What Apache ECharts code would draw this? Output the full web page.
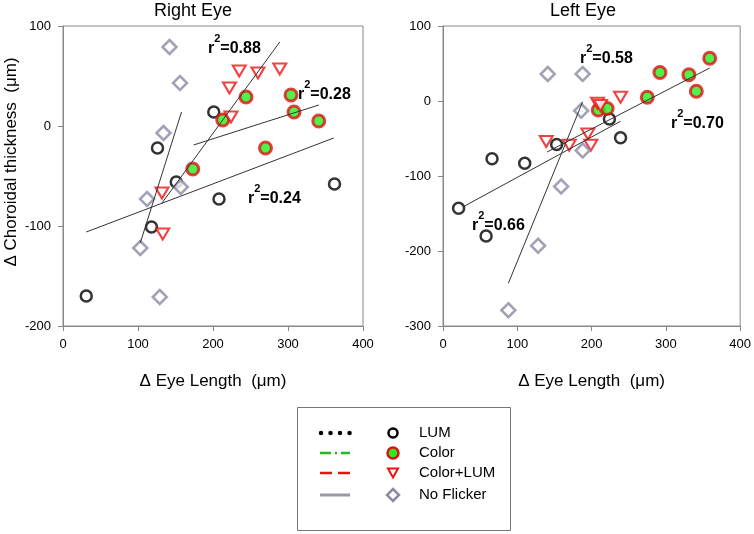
<!DOCTYPE html>
<html><head><meta charset="utf-8">
<script src="https://cdn.jsdelivr.net/npm/echarts@6/dist/echarts.min.js"></script>
<style>html,body{margin:0;padding:0;background:#fff}#c{width:754px;height:534px}</style>
</head><body><div id="c"></div>
<script>
// ---- Right Eye data: [Δ eye length (µm), Δ choroidal thickness (µm)]
const rightLUM = [[31,-170],[126,-22],[118,-101],[151,-56],[201,14],[208,-73],[362,-58]];
const rightColor = [[173,-43],[213,6],[244,29],[270,-22],[304,31],[308,14],[341,5]];
const rightColorLUM = [[132,-67],[133,-108],[222,38],[235,55],[224,9],[260,53],[289,57]];
const rightNoFlicker = [[142,79],[156,43],[134,-7],[112,-73],[157,-61],[103,-122],[129,-171]];
// regression line endpoints
const rightFitNoFlicker = [[103,-117],[158,14]];
const rightFitColorLUM = [[131,-78],[289,84]];
const rightFitColor = [[174,-19],[341,21]];
const rightFitLUM = [[31,-106],[361,-12]];

// ---- Left Eye data
const leftLUM = [[21,-143],[58,-180],[66,-77],[110,-83],[153,-58],[224,-24],[239,-49]];
const leftColor = [[209,-12],[221,-10],[275,5],[292,38],[331,35],[341,13],[359,57]];
const leftColorLUM = [[139,-54],[170,-59],[195,-44],[199,-59],[208,-3],[212,-6],[239,5]];
const leftNoFlicker = [[141,36],[188,36],[186,-13],[188,-66],[159,-114],[128,-193],[88,-279]];
const leftFitNoFlicker = [[88,-243],[188,-1]];
const leftFitLUM = [[29,-140],[239,-27]];
const leftFitColor = [[140,-68],[359,44]];

// ---- texts
const titles = ['Right Eye','Left Eye'];
const xName = 'Δ Eye Length  (μm)';
const yName = 'Δ Choroidal thickness  (μm)';
const rightR2 = ['0.88','0.28','0.24'];
const leftR2 = ['0.58','0.70','0.66'];
const legendNames = ['LUM','Color','Color+LUM','No Flicker'];

const FONT = 'Liberation Sans, Arial, sans-serif';
const AX = '#888';

const chart = echarts.init(document.getElementById('c'), null, {renderer:'canvas'});

function xAxis(gi){
  return {type:'value', gridIndex:gi, min:0, max:400, interval:100,
    name:xName, nameLocation:'middle', nameGap:47,
    nameTextStyle:{fontFamily:FONT, fontSize:17, color:'#000'},
    splitLine:{show:false},
    axisLine:{show:true, onZero:false, lineStyle:{color:AX, width:1}},
    axisTick:{show:true, inside:false, length:5, lineStyle:{color:AX}},
    axisLabel:{fontFamily:FONT, fontSize:13, color:'#000', margin:12}};
}
function yAxis(gi, min){
  return {type:'value', gridIndex:gi, min:min, max:100, interval:100,
    splitLine:{show:false},
    axisLine:{show:true, onZero:false, lineStyle:{color:AX, width:1}},
    axisTick:{show:true, inside:false, length:5, lineStyle:{color:AX}},
    axisLabel:{fontFamily:FONT, fontSize:13, color:'#000', margin:12}};
}
const sty = {
  LUM:{symbol:'circle', symbolSize:11, itemStyle:{color:'rgba(255,255,255,0)', borderColor:'#000', borderWidth:2.5}},
  Color:{symbol:'circle', symbolSize:12, itemStyle:{color:'#22ee22', borderColor:'#e01010', borderWidth:3}},
  CL:{symbol:'triangle', symbolRotate:180, symbolSize:[13,11], itemStyle:{color:'#fff', borderColor:'#ee1111', borderWidth:2}},
  NF:{symbol:'diamond', symbolSize:14, itemStyle:{color:'#fff', borderColor:'#8a8aa6', borderWidth:2.5}}
};
function sc(data, gi, s){
  return Object.assign({type:'scatter', xAxisIndex:gi, yAxisIndex:gi, data:data, silent:true, z:3}, s);
}
function fit(data, gi){
  return {type:'line', xAxisIndex:gi, yAxisIndex:gi, data:data, showSymbol:false, silent:true, z:4,
    lineStyle:{color:'#333', width:1}};
}
function r2(x, y, v){
  return {type:'text', x:x, y:y, z:10, style:{
    text:'{a|r}{b|2}{a|='+v+'}', verticalAlign:'middle', align:'left',
    rich:{a:{fontFamily:FONT, fontSize:16, fontWeight:'bold', fill:'#000', lineHeight:24, verticalAlign:'bottom'},
          b:{fontFamily:FONT, fontSize:11, fontWeight:'bold', fill:'#000', lineHeight:11, verticalAlign:'top'}}}};
}
function legendRow(i, y, lineDash, lineColor, lineW, cap){
  return [];
}
const lx1 = 320, lx2 = 350, mx = 393, tx = 419;
const rows = [433, 453, 473, 495];
const graphic = [
  {type:'text', x:193, y:11, style:{text:titles[0], align:'center', verticalAlign:'middle', font:'18px '+FONT, fill:'#000'}},
  {type:'text', x:583, y:11, style:{text:titles[1], align:'center', verticalAlign:'middle', font:'18px '+FONT, fill:'#000'}},
  {type:'text', x:11, y:162, rotation:Math.PI/2, style:{text:yName, align:'center', verticalAlign:'middle', font:'17px '+FONT, fill:'#000'}},
  r2(208, 45, rightR2[0]), r2(298, 91, rightR2[1]), r2(248, 195, rightR2[2]),
  r2(580, 55, leftR2[0]), r2(671, 120, leftR2[1]), r2(472, 222, leftR2[2]),
  // legend box
  {type:'rect', shape:{x:297.5, y:407.5, width:213, height:123}, style:{fill:'#fff', stroke:'#777', lineWidth:1}, z:5},
  {type:'line', shape:{x1:lx1+1, y1:rows[0], x2:lx2, y2:rows[0]}, style:{stroke:'#000', lineWidth:4.5, lineDash:[0.01, 9.5], lineCap:'round'}, z:6},
  {type:'line', shape:{x1:lx1, y1:rows[1], x2:lx2, y2:rows[1]}, style:{stroke:'#22bb22', lineWidth:2.5, lineDash:[11,4,2,4]}, z:6},
  {type:'line', shape:{x1:lx1, y1:rows[2], x2:lx2, y2:rows[2]}, style:{stroke:'#ee1111', lineWidth:2.5, lineDash:[12,6]}, z:6},
  {type:'line', shape:{x1:lx1, y1:rows[3], x2:lx2, y2:rows[3]}, style:{stroke:'#9999aa', lineWidth:3}, z:6},
  {type:'circle', shape:{cx:mx, cy:rows[0], r:4.5}, style:{fill:'none', stroke:'#000', lineWidth:2.5}, z:6},
  {type:'circle', shape:{cx:mx, cy:rows[1], r:5.5}, style:{fill:'#22ee22', stroke:'#e01010', lineWidth:2.5}, z:6},
  {type:'polygon', shape:{points:[[mx-5,rows[2]-4.5],[mx+5,rows[2]-4.5],[mx,rows[2]+4.5]]}, style:{fill:'#fff', stroke:'#ee1111', lineWidth:2}, z:6},
  {type:'polygon', shape:{points:[[mx,rows[3]-6],[mx+6,rows[3]],[mx,rows[3]+6],[mx-6,rows[3]]]}, style:{fill:'#fff', stroke:'#8a8aa6', lineWidth:2.5}, z:6}
];
legendNames.forEach((n,i)=>graphic.push({type:'text', x:tx, y:rows[i], z:6, style:{text:n, align:'left', verticalAlign:'middle', font:'15px '+FONT, fill:'#000'}}));

chart.setOption({
  animation:false,
  backgroundColor:'#fff',
  grid:[{left:63, top:26, width:300, height:300, show:true, borderColor:AX, borderWidth:1, backgroundColor:'transparent'},
        {left:443, top:26, width:300, height:300, show:true, borderColor:AX, borderWidth:1, backgroundColor:'transparent'}],
  xAxis:[xAxis(0), xAxis(1)],
  yAxis:[yAxis(0,-200), yAxis(1,-300)],
  series:[
    fit(rightFitNoFlicker,0), fit(rightFitColorLUM,0), fit(rightFitColor,0), fit(rightFitLUM,0),
    sc(rightLUM,0,sty.LUM), sc(rightColor,0,sty.Color), sc(rightColorLUM,0,sty.CL), sc(rightNoFlicker,0,sty.NF),
    fit(leftFitNoFlicker,1), fit(leftFitLUM,1), fit(leftFitColor,1),
    sc(leftLUM,1,sty.LUM), sc(leftColor,1,sty.Color), sc(leftColorLUM,1,sty.CL), sc(leftNoFlicker,1,sty.NF)
  ],
  graphic:graphic
});
</script></body></html>
